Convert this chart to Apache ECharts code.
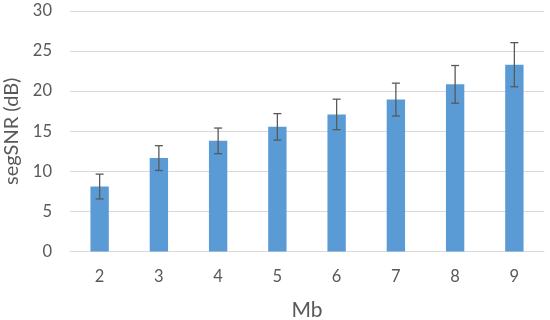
<!DOCTYPE html>
<html><head><meta charset="utf-8">
<script src="https://cdn.jsdelivr.net/npm/echarts@6/dist/echarts.min.js"></script>
<style>html,body{margin:0;padding:0;background:#fff}#c{width:550px;height:320px}</style>
</head><body><div id="c"></div>
<script>
var categories = ['2','3','4','5','6','7','8','9'];
var values = [8.1, 11.65, 13.8, 15.55, 17.1, 18.95, 20.85, 23.3];
var errors = [1.55, 1.55, 1.6, 1.65, 1.9, 2.05, 2.35, 2.75];
var yTicks = {min: 0, max: 30, interval: 5};

var chart = echarts.init(document.getElementById('c'));
var font = 'Lato, "Open Sans", sans-serif';
chart.setOption({
  animation: false,
  grid: {left: 70, right: 6, top: 11, bottom: 68.5, containLabel: false, outerBoundsMode: 'none'},
  xAxis: {
    type: 'category', data: categories,
    axisLine: {lineStyle: {color: '#d9d9d9', width: 1}},
    axisTick: {show: false},
    axisLabel: {color: '#595959', fontSize: 16.5, fontFamily: font, margin: 17},
    name: 'Mb', nameLocation: 'middle', nameGap: 48,
    nameTextStyle: {color: '#595959', fontSize: 21, fontFamily: font}
  },
  yAxis: {
    type: 'value', min: yTicks.min, max: yTicks.max, interval: yTicks.interval,
    axisLine: {show: false}, axisTick: {show: false},
    axisLabel: {color: '#595959', fontSize: 16.5, fontFamily: font, margin: 18},
    splitLine: {lineStyle: {color: '#d9d9d9', width: 1}},
    name: 'segSNR (dB)', nameLocation: 'middle', nameGap: 44,
    nameTextStyle: {color: '#595959', fontSize: 20, fontFamily: font}
  },
  series: [{
    type: 'bar', data: values, barWidth: '31%',
    itemStyle: {color: '#5B9BD5'}
  }, {
    type: 'custom',
    data: values.map(function (v, i) { return [i, v - errors[i], v + errors[i]]; }),
    renderItem: function (params, api) {
      var lo = api.coord([api.value(0), api.value(1)]);
      var hi = api.coord([api.value(0), api.value(2)]);
      var w = 4;
      var st = {stroke: '#595959', lineWidth: 1.3};
      return {type: 'group', children: [
        {type: 'line', shape: {x1: hi[0], y1: hi[1], x2: lo[0], y2: lo[1]}, style: st},
        {type: 'line', shape: {x1: hi[0]-w, y1: hi[1], x2: hi[0]+w, y2: hi[1]}, style: st},
        {type: 'line', shape: {x1: lo[0]-w, y1: lo[1], x2: lo[0]+w, y2: lo[1]}, style: st}
      ]};
    },
    encode: {x: 0, y: [1, 2]}, z: 10
  }]
});
</script></body></html>
